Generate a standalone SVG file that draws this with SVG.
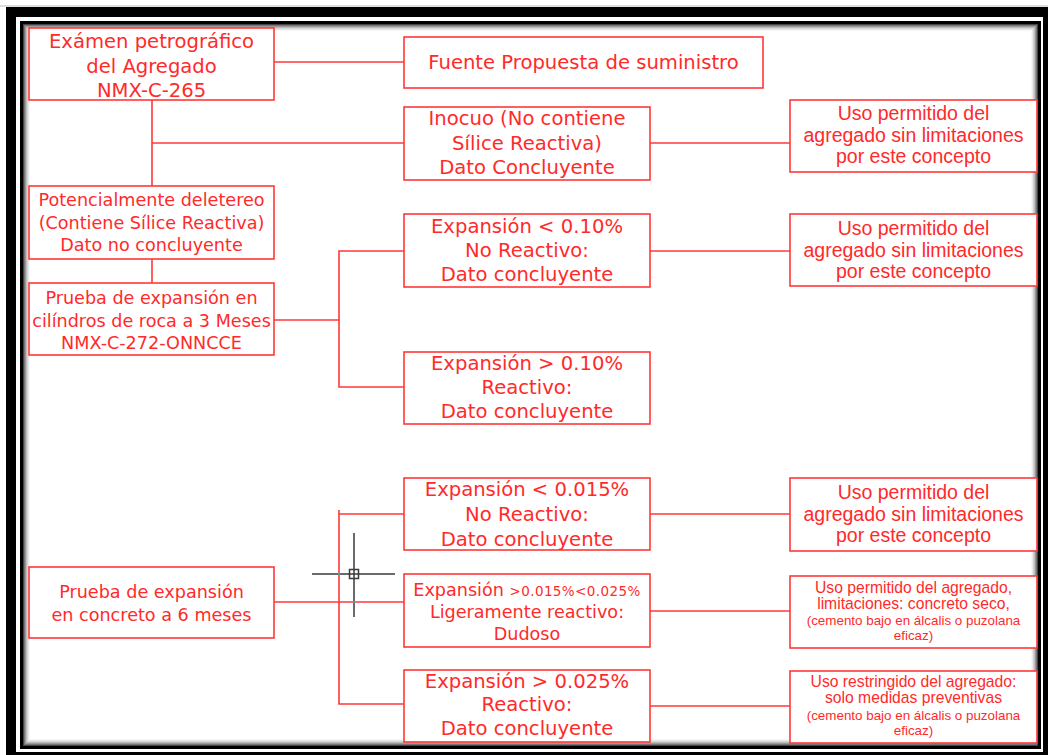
<svg xmlns="http://www.w3.org/2000/svg" width="1048" height="755" viewBox="0 0 1048 755">
<style>
.box{fill:#fff;stroke:#ff3838;stroke-width:1.6}
.ln{fill:none;stroke:#ff3838;stroke-width:1.6}
text{fill:#ff2a2a;text-anchor:middle}
.v{font-family:"DejaVu Sans","Verdana",sans-serif}
.big{font-size:19.6px}
.mid{font-size:17.6px}
.a{font-family:"Liberation Sans","Arial",sans-serif}
.r{font-size:19.5px}
.s1{font-size:15.7px}
.s2{font-size:13.4px}
.ch{fill:none;stroke:#3a3a3a;stroke-width:1.5}
</style>
<!-- frame -->
<rect x="0" y="0" width="1048" height="755" fill="#fff"/>
<rect x="0" y="5.5" width="1048" height="1" fill="#bbb"/>
<rect x="6" y="7" width="1042" height="748" fill="#000"/>
<rect x="16" y="17" width="1027" height="735" fill="#fff"/>
<rect x="20" y="21" width="1021" height="728" fill="#000"/>
<rect x="23" y="24" width="1015" height="722" fill="#fff"/>
<g fill="none">
<rect x="23.5" y="24.5" width="1014" height="721" stroke="#444"/>
<rect x="24.5" y="25.5" width="1012" height="719" stroke="#777"/>
<rect x="25.5" y="26.5" width="1010" height="717" stroke="#999"/>
<rect x="26.5" y="27.5" width="1008" height="715" stroke="#bbb"/>
<rect x="27.5" y="28.5" width="1006" height="713" stroke="#d4d4d4"/>
<rect x="28.5" y="29.5" width="1004" height="711" stroke="#e8e8e8"/>
<rect x="29.5" y="30.5" width="1002" height="709" stroke="#f5f5f5"/>
</g>

<g id="connectors">
<path class="ln" d="M274 62H404"/>
<path class="ln" d="M152 100V186"/>
<path class="ln" d="M152 143H404"/>
<path class="ln" d="M650 143H790"/>
<path class="ln" d="M152 259V283"/>
<path class="ln" d="M274 320H339"/>
<path class="ln" d="M404 251H339V387H404"/>
<path class="ln" d="M650 251H790"/>
<path class="ln" d="M274 602H404"/>
<path class="ln" d="M404 514H339V704H404"/>
<path class="ln" d="M339 514V510"/>
<path class="ln" d="M650 514H790"/>
<path class="ln" d="M650 611H790"/>
<path class="ln" d="M650 706H790"/>
</g>

<g id="n-examen">
<rect class="box" x="29" y="28" width="245" height="72"/>
<text class="v big" x="151.5" y="48">Exámen petrográfico</text>
<text class="v big" x="151.5" y="72.5">del Agregado</text>
<text class="v big" x="151.5" y="96.5">NMX-C-265</text>
</g>
<g id="n-fuente">
<rect class="box" x="404" y="37" width="359" height="51"/>
<text class="v big" x="583.5" y="69">Fuente Propuesta de suministro</text>
</g>
<g id="n-inocuo">
<rect class="box" x="404" y="107" width="246" height="73"/>
<text class="v big" x="527" y="125">Inocuo (No contiene</text>
<text class="v big" x="527" y="150">Sílice Reactiva)</text>
<text class="v big" x="527" y="174">Dato Concluyente</text>
</g>
<g id="n-uso1">
<rect class="box" x="790" y="100" width="247" height="72"/>
<text class="a r" x="913.5" y="120">Uso permitido del</text>
<text class="a r" x="913.5" y="142">agregado sin limitaciones</text>
<text class="a r" x="913.5" y="163">por este concepto</text>
</g>
<g id="n-potencial">
<rect class="box" x="29" y="186" width="245" height="73"/>
<text class="v mid" x="151.5" y="206">Potencialmente deletereo</text>
<text class="v mid" x="151.5" y="228.5">(Contiene Sílice Reactiva)</text>
<text class="v mid" x="151.5" y="251">Dato no concluyente</text>
</g>
<g id="n-prueba3">
<rect class="box" x="29" y="283" width="245" height="72"/>
<text class="v mid" x="151.5" y="304">Prueba de expansión en</text>
<text class="v mid" x="151.5" y="327">cilíndros de roca a 3 Meses</text>
<text class="v mid" x="151.5" y="349">NMX-C-272-ONNCCE</text>
</g>
<g id="n-exp010a">
<rect class="box" x="404" y="214" width="246" height="73"/>
<text class="v big" x="527" y="233">Expansión &lt; 0.10%</text>
<text class="v big" x="527" y="257">No Reactivo:</text>
<text class="v big" x="527" y="281">Dato concluyente</text>
</g>
<g id="n-uso2">
<rect class="box" x="790" y="214" width="247" height="72"/>
<text class="a r" x="913.5" y="235">Uso permitido del</text>
<text class="a r" x="913.5" y="257">agregado sin limitaciones</text>
<text class="a r" x="913.5" y="278">por este concepto</text>
</g>
<g id="n-exp010b">
<rect class="box" x="404" y="352" width="246" height="72"/>
<text class="v big" x="527" y="370">Expansión &gt; 0.10%</text>
<text class="v big" x="527" y="394">Reactivo:</text>
<text class="v big" x="527" y="418">Dato concluyente</text>
</g>
<g id="n-prueba6">
<rect class="box" x="29" y="567" width="245" height="71"/>
<text class="v mid" x="151.5" y="598">Prueba de expansión</text>
<text class="v mid" x="151.5" y="621">en concreto a 6 meses</text>
</g>
<g id="n-exp015">
<rect class="box" x="404" y="478" width="246" height="72"/>
<text class="v big" x="527" y="496">Expansión &lt; 0.015%</text>
<text class="v big" x="527" y="521">No Reactivo:</text>
<text class="v big" x="527" y="546">Dato concluyente</text>
</g>
<g id="n-uso3">
<rect class="box" x="790" y="478" width="247" height="73"/>
<text class="a r" x="913.5" y="499">Uso permitido del</text>
<text class="a r" x="913.5" y="521">agregado sin limitaciones</text>
<text class="a r" x="913.5" y="542">por este concepto</text>
</g>
<g id="n-exp-lig">
<rect class="box" x="404" y="574" width="246" height="73"/>
<text class="v mid" x="527" y="596">Expansión <tspan font-size="13.5px" letter-spacing="0.4">&gt;0.015%&lt;0.025%</tspan></text>
<text class="v mid" x="527" y="618">Ligeramente reactivo:</text>
<text class="v mid" x="527" y="640">Dudoso</text>
</g>
<g id="n-uso4">
<rect class="box" x="790" y="576" width="247" height="72"/>
<text class="a s1" x="913.5" y="593">Uso permitido del agregado,</text>
<text class="a s1" x="913.5" y="609">limitaciones: concreto seco,</text>
<text class="a s2" x="913.5" y="625">(cemento bajo en álcalis o puzolana</text>
<text class="a s2" x="913.5" y="640">eficaz)</text>
</g>
<g id="n-exp025">
<rect class="box" x="404" y="670" width="246" height="72"/>
<text class="v big" x="527" y="688">Expansión &gt; 0.025%</text>
<text class="v big" x="527" y="711">Reactivo:</text>
<text class="v big" x="527" y="735">Dato concluyente</text>
</g>
<g id="n-uso5">
<rect class="box" x="790" y="671" width="247" height="72"/>
<text class="a s1" x="913.5" y="687">Uso restringido del agregado:</text>
<text class="a s1" x="913.5" y="703">solo medidas preventivas</text>
<text class="a s2" x="913.5" y="720">(cemento bajo en álcalis o puzolana</text>
<text class="a s2" x="913.5" y="735">eficaz)</text>
</g>

<!-- cursor crosshair -->
<g id="cursor">
<path class="ch" d="M312 574H350M358 574H395M354 533V570M354 578V617"/>
<rect class="ch" x="349.5" y="569.5" width="9" height="9"/>
<path class="ch" stroke-width="1" d="M354 570V578M350 574H358"/>
<rect x="338" y="573" width="2" height="2" fill="#3aa"/>
<rect x="353" y="601" width="2" height="2" fill="#3aa"/>
</g>
</svg>
